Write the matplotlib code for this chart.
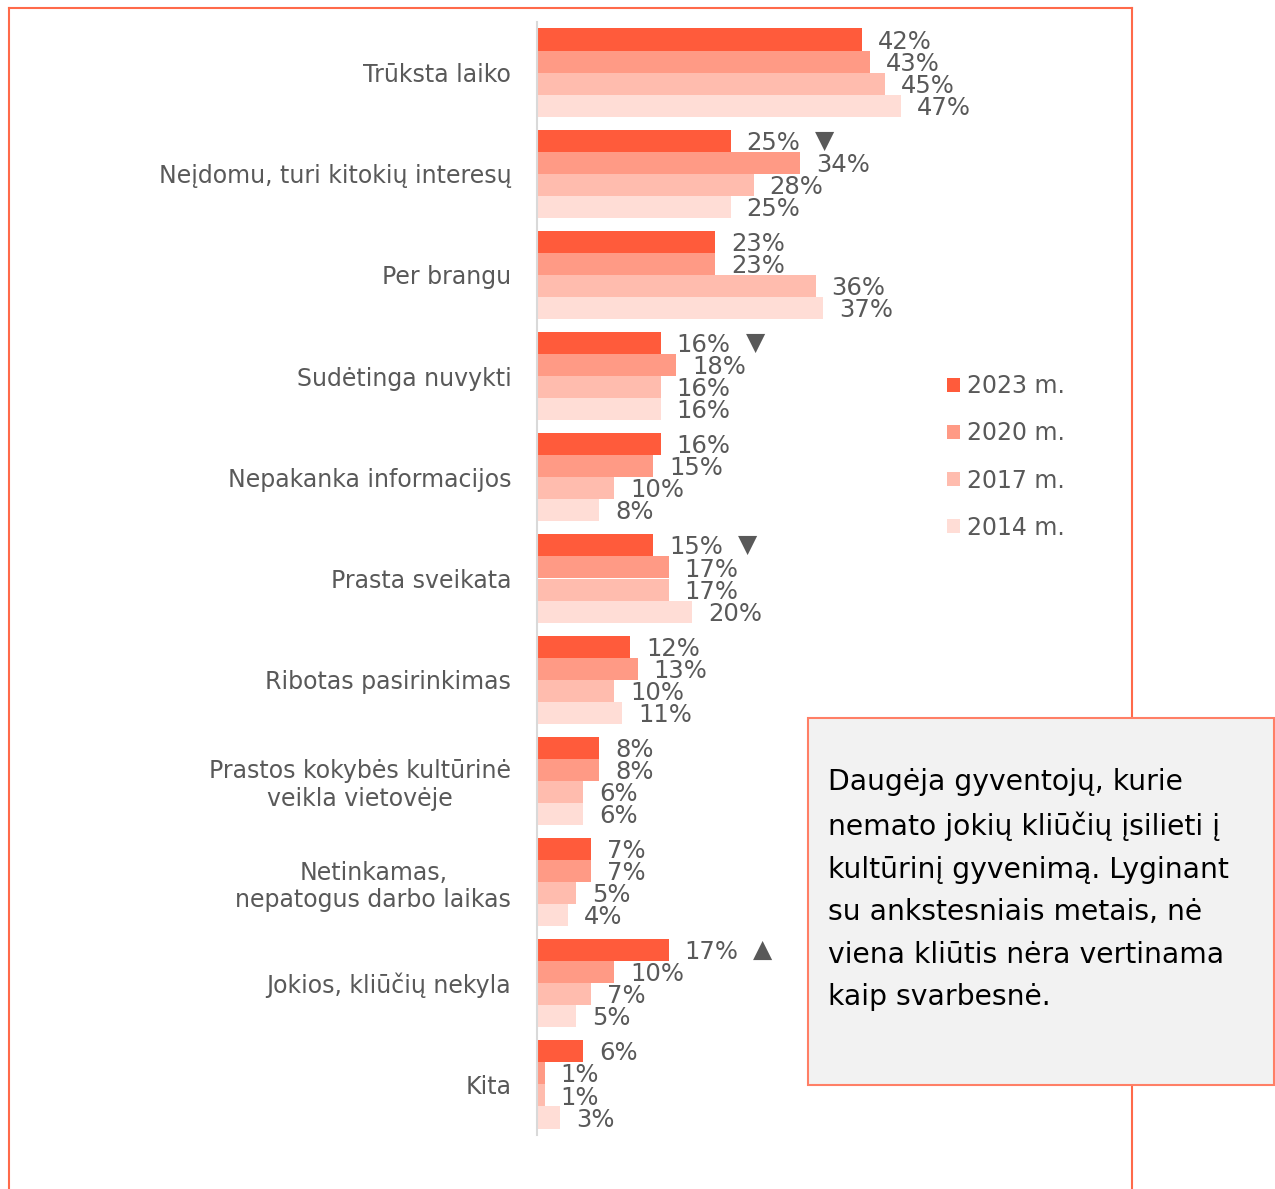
import numpy as np
import matplotlib
matplotlib.use("Agg")
import matplotlib.pyplot as plt
from matplotlib.patches import Patch, Rectangle
from matplotlib.lines import Line2D

categories = ["Trūksta laiko", "Neįdomu, turi kitokių interesų", "Per brangu",
              "Sudėtinga nuvykti", "Nepakanka informacijos", "Prasta sveikata",
              "Ribotas pasirinkimas", "Prastos kokybės kultūrinė\nveikla vietovėje",
              "Netinkamas,\nnepatogus darbo laikas", "Jokios, kliūčių nekyla", "Kita"]
years = ["2023 m.", "2020 m.", "2017 m.", "2014 m."]
v2023 = [42, 25, 23, 16, 16, 15, 12, 8, 7, 17, 6]
v2020 = [43, 34, 23, 18, 15, 17, 13, 8, 7, 10, 1]
v2017 = [45, 28, 36, 16, 10, 17, 10, 6, 5, 7, 1]
v2014 = [47, 25, 37, 16, 8, 20, 11, 6, 4, 5, 3]
# change markers next to the 2023 value
arrows = {1: "▼", 3: "▼", 5: "▼", 9: "▲"}
note = ("Daugėja gyventojų, kurie\nnemato jokių kliūčių įsilieti į\n"
        "kultūrinį gyvenimą. Lyginant\nsu ankstesniais metais, nė\n"
        "viena kliūtis nėra vertinama\nkaip svarbesnė.")

colors = ["#FF5B3B", "#FF9A85", "#FFBCAE", "#FFDDD6"]
txt_col = "#595959"
frame_col = "#FF6A4A"

W, H = 1275, 1189
fig = plt.figure(figsize=(W / 100, H / 100), dpi=100)

# outer frame lines
fig.add_artist(Line2D([9 / W, 9 / W], [0, 1 - 8 / H], color=frame_col, lw=1.5))
fig.add_artist(Line2D([9 / W, 1132 / W], [1 - 8 / H, 1 - 8 / H], color=frame_col, lw=1.5))
fig.add_artist(Line2D([1132 / W, 1132 / W], [0, 1 - 8 / H], color=frame_col, lw=1.5))

ax_l, ax_r, ax_t, ax_b = 537, 1130, 22, 1135
ax = fig.add_axes([ax_l / W, 1 - ax_b / H, (ax_r - ax_l) / W, (ax_b - ax_t) / H])
ax.patch.set_alpha(0)
px_per = 7.74
ax.set_xlim(0, (ax_r - ax_l) / px_per)
ax.set_ylim(len(categories) - 0.5, -0.5)

y = np.arange(len(categories))
bh = 0.218
series = [v2023, v2020, v2017, v2014]
for k, vals in enumerate(series):
    yy = y - 1.5 * bh + k * bh
    ax.barh(yy, vals, height=bh, color=colors[k], label=years[k])
    for i, v in enumerate(vals):
        ax.annotate(f"{v}%", (v, yy[i]), xytext=(11.5, -1.5), textcoords="offset points",
                    va="center", ha="left", fontsize=17.5, color=txt_col)

for i, sym in arrows.items():
    ax.text(v2023[i] + 12.2, y[i] - 1.5 * bh, sym, va="center", ha="center",
            fontsize=18, color=txt_col)

ax.set_yticks(y)
ax.set_yticklabels(categories, fontsize=17, color=txt_col, multialignment="center")
ax.tick_params(axis="y", length=0, pad=18.5)
ax.set_xticks([])
for s in ["top", "right", "bottom"]:
    ax.spines[s].set_visible(False)
ax.spines["left"].set_color("#D9D9D9")
ax.spines["left"].set_linewidth(1.5)

handles = [Patch(facecolor=c, edgecolor="none") for c in colors]
fig.legend(handles, years, loc="upper left", bbox_to_anchor=(926 / W, 1 - 353 / H),
           frameon=False, fontsize=17, labelcolor=txt_col, handlelength=0.55,
           handleheight=0.55, handletextpad=0.3, labelspacing=0.98)

# note box
fig.add_artist(Rectangle((808 / W, 1 - 1085 / H), (1274 - 808) / W, (1085 - 718) / H,
                         transform=fig.transFigure, facecolor="#F2F2F2",
                         edgecolor="#FF7F66", lw=1.5, zorder=5))
fig.text(828 / W, 1 - 768 / H, note, ha="left", va="top", fontsize=20.3,
         color="black", linespacing=1.66, zorder=6)

fig.savefig("out.png", dpi=100)
